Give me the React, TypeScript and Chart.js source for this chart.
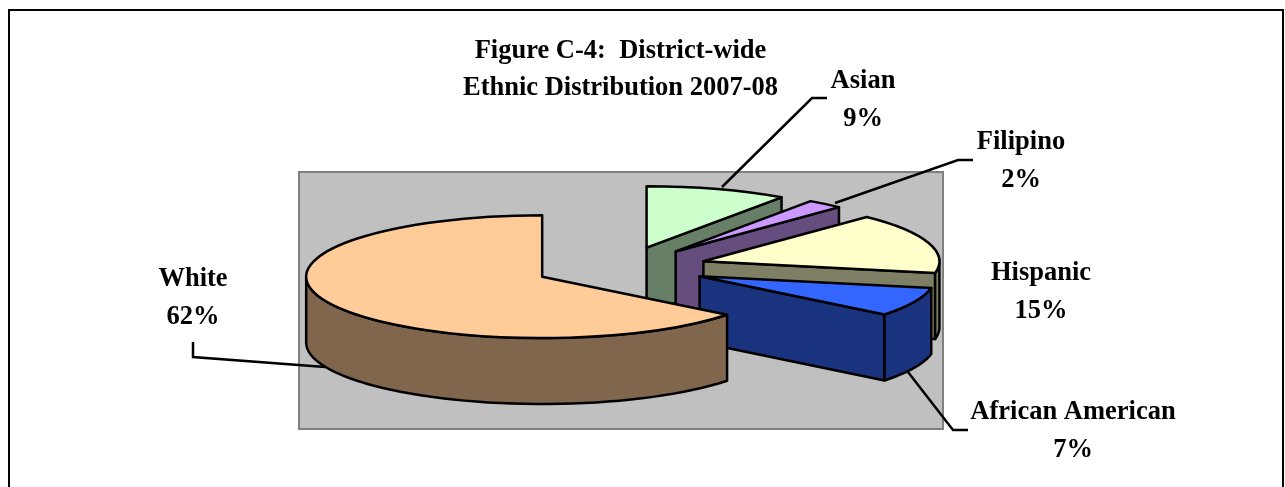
import React, { useEffect, useRef } from "react";
import { Chart, registerables } from "chart.js";

Chart.register(...registerables);

// ---- data ----
// Shares; each rounds to its printed label.
const categories = ["Asian", "Filipino", "Hispanic", "African American", "White"];
const percentages = [9.4, 2.4, 15.4, 7.4, 62.4];
const topColors = ["#CCFFCC", "#CC99FF", "#FFFFCC", "#3366FF", "#FFCC99"];
const wallColors = ["#667F66", "#664D7F", "#7F7F66", "#19337F", "#7F664D"];
const titleLines = ["Figure C-4:  District-wide", "Ethnic Distribution 2007-08"];

// ---- layout ----
const FONT = "bold 26.5px 'Liberation Serif'";
const SQUASH = 0.26;
const EXPLODE_SQUASH = 0.24;
const DEPTH = 66;
const EXPLODE = 87;
const RADIUS = 236;
const ROTATION = 0;
const EDGE = 2.5;
const labelAnchors = [
  { x: 863, y: 88, dy: 38 },
  { x: 1021, y: 149, dy: 38 },
  { x: 1041, y: 280, dy: 38 },
  { x: 1073, y: 419, dy: 38 },
  { x: 193, y: 286, dy: 38 },
];
const leaderPaths = [
  [[827, 98], [812, 98], [722, 187]],
  [[973, 160], [958, 160], [835, 203]],
  [[968, 430], [953, 430], [908, 372]],
  [[193, 342], [193, 357], [325, 367]],
];

const pie3d = {
  id: "pie3d",
  beforeDraw(chart: any) {
    const { ctx, width, height } = chart;
    ctx.save();
    ctx.fillStyle = "#FFFFFF";
    ctx.fillRect(0, 0, width, height);
    ctx.strokeStyle = "#000000";
    ctx.lineWidth = 2;
    ctx.beginPath();
    ctx.moveTo(9, height + 4);
    ctx.lineTo(9, 10);
    ctx.lineTo(1283, 10);
    ctx.lineTo(1283, height + 4);
    ctx.stroke();
    ctx.fillStyle = "#C0C0C0";
    ctx.strokeStyle = "#808080";
    ctx.fillRect(299, 172, 644, 257);
    ctx.strokeRect(299, 172, 644, 257);
    ctx.restore();
  },
  beforeDatasetDraw(chart: any, args: any) {
    const { ctx } = chart;
    const arcs = args.meta.data;
    arcs.forEach((arc: any, i: number) => {
      const { x, y, startAngle, endAngle, outerRadius } = arc.getProps(
        ["x", "y", "startAngle", "endAngle", "outerRadius"],
        true
      );
      const mid = (startAngle + endAngle) / 2;
      const ax = x + Math.cos(mid) * EXPLODE;
      const ay = y + Math.sin(mid) * EXPLODE * EXPLODE_SQUASH;
      const rim = (t: number, d = 0) => [
        ax + Math.cos(t) * outerRadius,
        ay + Math.sin(t) * outerRadius * SQUASH + d,
      ];
      ctx.save();
      ctx.lineWidth = EDGE;
      ctx.lineJoin = "round";
      ctx.strokeStyle = "#000000";
      ctx.fillStyle = wallColors[i];
      const paint = () => {
        ctx.closePath();
        ctx.fill();
        ctx.stroke();
      };
      // cut faces that look toward the viewer
      [
        [startAngle, Math.sin(startAngle - Math.PI / 2)],
        [endAngle, Math.sin(endAngle + Math.PI / 2)],
      ].forEach(([t, n]) => {
        if (n <= 1e-6) return;
        const p = rim(t);
        ctx.beginPath();
        ctx.moveTo(ax, ay);
        ctx.lineTo(p[0], p[1]);
        ctx.lineTo(p[0], p[1] + DEPTH);
        ctx.lineTo(ax, ay + DEPTH);
        paint();
      });
      // outer wall on the front half of the rim
      [0, 2 * Math.PI, -2 * Math.PI].forEach((base) => {
        const a = Math.max(startAngle, base);
        const b = Math.min(endAngle, base + Math.PI);
        if (b <= a) return;
        ctx.beginPath();
        for (let s = 0; s <= 48; s++) {
          const p = rim(a + ((b - a) * s) / 48);
          s ? ctx.lineTo(p[0], p[1]) : ctx.moveTo(p[0], p[1]);
        }
        for (let s = 48; s >= 0; s--) {
          const p = rim(a + ((b - a) * s) / 48, DEPTH);
          ctx.lineTo(p[0], p[1]);
        }
        paint();
      });
      // top face: the library's own arc, squashed and moved out
      ctx.save();
      ctx.translate(ax, ay);
      ctx.scale(1, SQUASH);
      ctx.translate(-x, -y);
      arc.draw(ctx);
      ctx.beginPath();
      ctx.moveTo(x, y);
      ctx.arc(x, y, outerRadius, startAngle, endAngle);
      ctx.closePath();
      ctx.restore();
      ctx.stroke();
      ctx.restore();
    });
    return false;
  },
  afterDraw(chart: any) {
    const { ctx } = chart;
    ctx.save();
    ctx.strokeStyle = "#000000";
    ctx.lineWidth = EDGE;
    leaderPaths.forEach((path) => {
      ctx.beginPath();
      path.forEach((p, i) => (i ? ctx.lineTo(p[0], p[1]) : ctx.moveTo(p[0], p[1])));
      ctx.stroke();
    });
    ctx.fillStyle = "#000000";
    ctx.font = FONT;
    ctx.textAlign = "center";
    ctx.textBaseline = "alphabetic";
    categories.forEach((name, i) => {
      const a = labelAnchors[i];
      ctx.fillText(name, a.x, a.y);
      ctx.fillText(Math.round(percentages[i]) + "%", a.x, a.y + a.dy);
    });
    ctx.restore();
  },
};

export default function App() {
  const ref = useRef<HTMLCanvasElement>(null);
  useEffect(() => {
    const chart = new Chart(ref.current as HTMLCanvasElement, {
      type: "pie",
      data: {
        labels: categories,
        datasets: [
          {
            data: percentages,
            backgroundColor: topColors,
            borderWidth: 0,
            clip: false,
          } as any,
        ],
      },
      options: {
        responsive: false,
        animation: false,
        rotation: ROTATION,
        radius: RADIUS,
        layout: { padding: { left: 0, right: 44, top: 0, bottom: 59 } },
        plugins: {
          legend: { display: false },
          tooltip: { enabled: false },
          title: {
            display: true,
            text: titleLines,
            fullSize: false,
            color: "#000000",
            font: { family: "'Liberation Serif'", size: 26.5, weight: "bold", lineHeight: 1.4 },
            padding: { top: 33, bottom: 0 },
          },
        },
      } as any,
      plugins: [pie3d],
    });
    return () => chart.destroy();
  }, []);
  return (
    <canvas
      ref={ref}
      width={1285}
      height={487}
      style={{ position: "fixed", left: 0, top: 0, display: "block" }}
    />
  );
}
